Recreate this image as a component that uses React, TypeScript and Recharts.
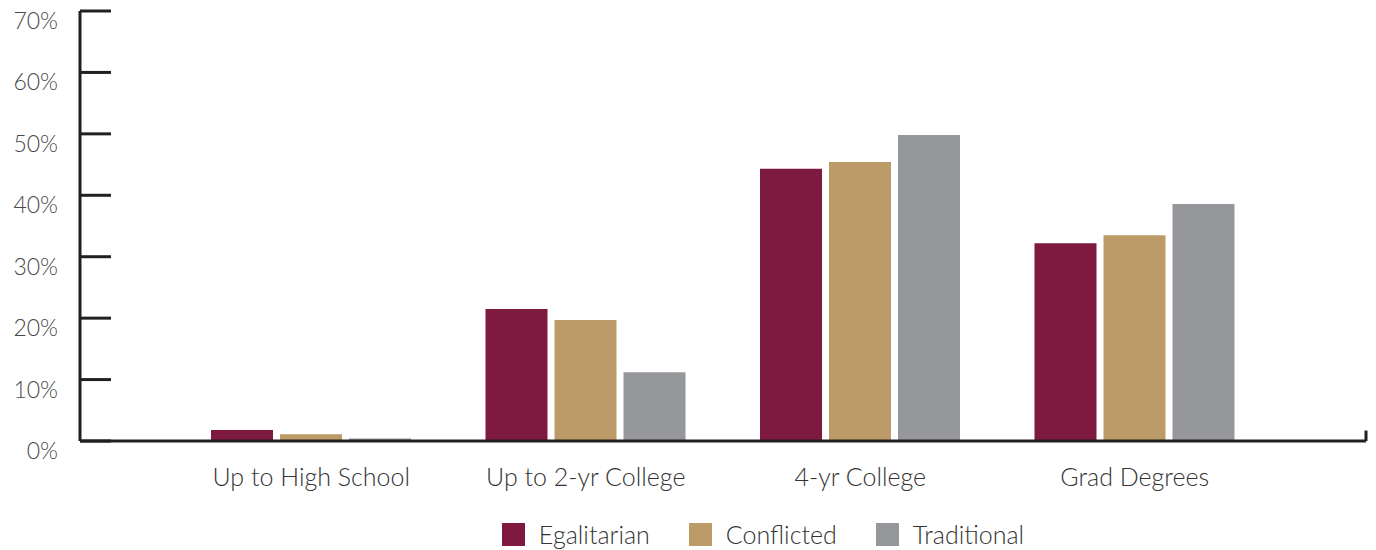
import React from 'react';
import { BarChart, Bar, XAxis, YAxis, Legend, ReferenceLine } from 'recharts';

const categories = ['Up to High School', 'Up to 2-yr College', '4-yr College', 'Grad Degrees'];
const egalitarian = [1.8, 21.5, 44.3, 32.2];
const conflicted = [1.1, 19.7, 45.4, 33.5];
const traditional = [0.4, 11.2, 49.8, 38.6];
const yTicks = [0, 10, 20, 30, 40, 50, 60, 70];
const seriesNames = ['Egalitarian', 'Conflicted', 'Traditional'];
const seriesKeys = ['egalitarian', 'conflicted', 'traditional'];
const seriesColors = ['#7E193F', '#BC9B69', '#96979B'];

const data = categories.map((c, i) => ({
  name: c,
  egalitarian: egalitarian[i],
  conflicted: conflicted[i],
  traditional: traditional[i],
}));

const FONT = 'Lato, "Open Sans", sans-serif';
const AXIS = '#231f20';
const EDGE = categories.length - 1;

const YTick = (props: any) => {
  const { x, y, payload } = props;
  return (
    <g>
      <line x1={x} x2={x + 31} y1={y} y2={y} stroke={AXIS} strokeWidth={3} />
      <text x={x - 22} y={y + 10} dy="0.35em" textAnchor="end" fontFamily={FONT} fontSize={23} fontWeight={300} fill="#4a4a4a">
        {payload.value}%
      </text>
    </g>
  );
};

const XTick = (props: any) => {
  const { x, y, payload } = props;
  return (
    <text x={x} y={y + 37} textAnchor="middle" fontFamily={FONT} fontSize={25} fontWeight={300} fill="#333">
      {payload.value}
    </text>
  );
};

const LegendContent = () => (
  <div style={{ display: 'flex', justifyContent: 'center', alignItems: 'center', height: 69, paddingTop: 37, boxSizing: 'border-box', paddingLeft: 160 }}>
    {seriesNames.map((n, i) => (
      <div key={n} style={{ display: 'flex', alignItems: 'center', marginRight: i < seriesNames.length - 1 ? 39 : 0 }}>
        <div style={{ width: 23, height: 23, background: seriesColors[i], marginRight: 14 }} />
        <span style={{ fontFamily: FONT, fontSize: 25, fontWeight: 300, color: '#333' }}>{n}</span>
      </div>
    ))}
  </div>
);

export default function App() {
  return (
    <div style={{ position: 'absolute', left: 0, top: 0, width: 1376, height: 550, background: '#fff' }}>
      <BarChart width={1376} height={550} data={data} margin={{ top: 11, right: 10, left: 0, bottom: 0 }} barSize={62} barGap={7}>
        <XAxis
          dataKey="name"
          padding={{ left: 94, right: 94 }}
          axisLine={{ stroke: AXIS, strokeWidth: 3 }}
          tickLine={false}
          tick={<XTick />}
          height={40}
          interval={0}
        />
        <XAxis xAxisId="edge" type="number" domain={[0, EDGE]} hide />
        <YAxis
          domain={[0, 70]}
          ticks={yTicks}
          width={80}
          axisLine={{ stroke: AXIS, strokeWidth: 3 }}
          tickLine={false}
          tickSize={0}
          tickMargin={0}
          tick={<YTick />}
          interval={0}
        />
        <ReferenceLine xAxisId="edge" segment={[{ x: EDGE, y: 0 }, { x: EDGE, y: 1.7 }]} stroke={AXIS} strokeWidth={3} />
        <Legend verticalAlign="bottom" height={69} content={<LegendContent />} />
        {seriesKeys.map((k, i) => (
          <Bar key={k} dataKey={k} name={seriesNames[i]} fill={seriesColors[i]} isAnimationActive={false} />
        ))}
      </BarChart>
    </div>
  );
}
